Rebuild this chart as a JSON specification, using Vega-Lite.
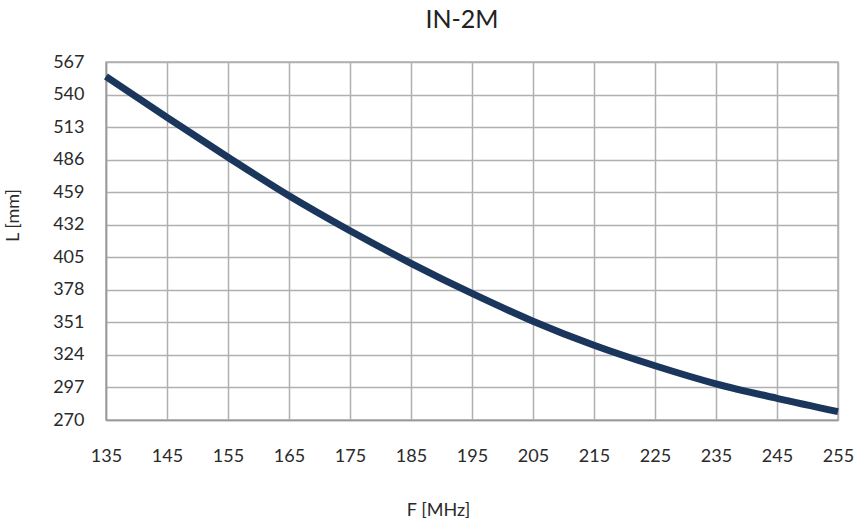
{
  "$schema": "https://vega.github.io/schema/vega-lite/v6.json",
  "width": 732,
  "height": 358,
  "autosize": "none",
  "padding": {"left": 106, "top": 62, "right": 20, "bottom": 109},
  "background": "white",
  "title": {"text": "IN-2M", "fontSize": 25, "font": "Lato", "fontWeight": "normal", "color": "#222222", "offset": 20, "dx": -10},
  "config": {
    "view": {"stroke": "#b0b0b0", "strokeWidth": 1.5},
    "axis": {"gridColor": "#b0b0b0", "gridWidth": 1.5, "gridOpacity": 1, "domainColor": "#999999", "domainWidth": 1.5, "ticks": false, "labelFont": "Lato", "labelFontSize": 18, "labelColor": "#2a2a2a", "titleFont": "Lato", "titleFontWeight": "normal", "titleFontSize": 18, "titleColor": "#2a2a2a"}
  },
  "data": {"values": [
    {"F": 135, "L": 555},
    {"F": 145, "L": 521},
    {"F": 155, "L": 488},
    {"F": 165, "L": 456},
    {"F": 175, "L": 427},
    {"F": 185, "L": 400},
    {"F": 195, "L": 375},
    {"F": 205, "L": 352},
    {"F": 215, "L": 332},
    {"F": 225, "L": 315},
    {"F": 235, "L": 300},
    {"F": 245, "L": 288},
    {"F": 255, "L": 277}
  ]},
  "mark": {"type": "line", "color": "#1b365d", "strokeWidth": 7, "interpolate": "monotone", "strokeCap": "butt"},
  "encoding": {
    "x": {"field": "F", "type": "quantitative", "title": "F [MHz]",
      "scale": {"domain": [135, 255], "nice": false, "zero": false},
      "axis": {"values": [135, 145, 155, 165, 175, 185, 195, 205, 215, 225, 235, 245, 255], "labelPadding": 27, "titleX": 332, "titlePadding": 36, "labelFlush": false}},
    "y": {"field": "L", "type": "quantitative", "title": "L [mm]",
      "scale": {"domain": [270, 567], "nice": false, "zero": false},
      "axis": {"values": [270, 297, 324, 351, 378, 405, 432, 459, 486, 513, 540, 567], "labelPadding": 22, "titleY": 153, "titlePadding": 30}}
  }
}
